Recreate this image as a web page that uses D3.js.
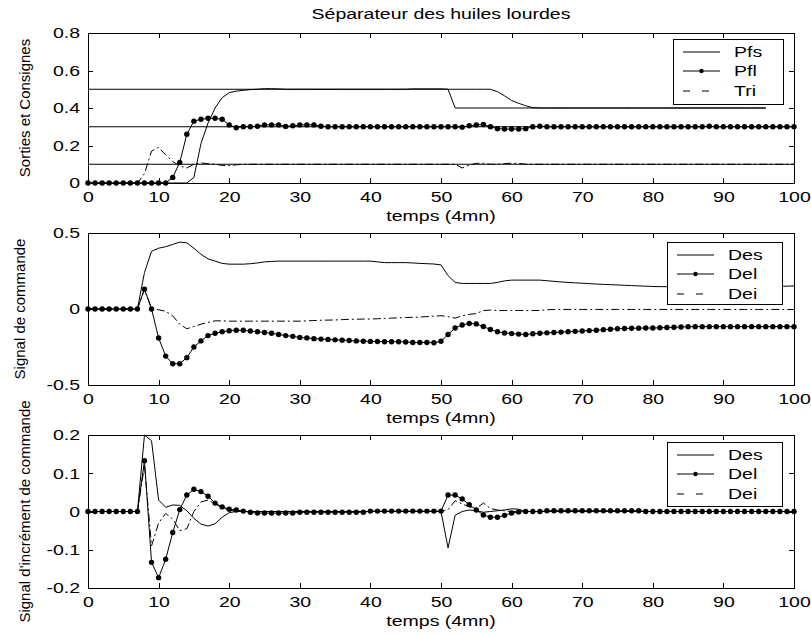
<!DOCTYPE html>
<html>
<head>
<meta charset="utf-8">
<script src="https://cdn.jsdelivr.net/npm/d3@7"></script>
<style>
  body { margin: 0; background: #fff; }
  svg text { font-family: "Liberation Sans", Arial, sans-serif; font-size: 15px; fill: #000; }
</style>
</head>
<body>
<svg id="chart" width="811" height="635"></svg>
<script>
// Sampling instants (one sample per 4 mn)
const temps = d3.range(0, 101);
const xTicks = [0, 10, 20, 30, 40, 50, 60, 70, 80, 90, 100];

// ---- Panel 1: outputs and set-points ----
const yTicks1 = [0, 0.2, 0.4, 0.6, 0.8];
const consPfs = [[0, 0.5], [51, 0.5], [52, 0.4], [96, 0.4]];
const consPfl = [[0, 0.3], [100, 0.3]];
const consTri = [[0, 0.1], [100, 0.1]];
const pfs = [
  0, 0, 0, 0, 0, 0, 0, 0, 0, 0,
  0, 0, 0, 0, 0, 0.03, 0.21, 0.32, 0.40, 0.455,
  0.482, 0.49, 0.494, 0.498, 0.5, 0.503, 0.503, 0.502, 0.5, 0.5,
  0.5, 0.5, 0.5, 0.5, 0.5, 0.5, 0.5, 0.5, 0.5, 0.5,
  0.5, 0.5, 0.5, 0.5, 0.5, 0.5, 0.502, 0.502, 0.502, 0.502,
  0.502, 0.5, 0.5, 0.5, 0.5, 0.5, 0.5, 0.5, 0.487, 0.465,
  0.44, 0.425, 0.412, 0.402, 0.4, 0.4, 0.4, 0.4, 0.4, 0.4,
  0.4, 0.4, 0.4, 0.4, 0.4, 0.4, 0.4, 0.4, 0.4, 0.4,
  0.4, 0.4, 0.4, 0.4, 0.4, 0.4, 0.4, 0.4, 0.4, 0.4,
  0.4, 0.4, 0.4, 0.4, 0.4, 0.4, 0.4, null, null, null,
  null
];
const pfl = [
  0, 0, 0, 0, 0, 0, 0, 0, 0, 0,
  0, 0, 0.03, 0.11, 0.26, 0.33, 0.34, 0.345, 0.345, 0.34,
  0.31, 0.295, 0.3, 0.3, 0.303, 0.31, 0.31, 0.31, 0.302, 0.305,
  0.31, 0.31, 0.31, 0.303, 0.3, 0.3, 0.3, 0.3, 0.3, 0.3,
  0.3, 0.3, 0.3, 0.3, 0.3, 0.3, 0.3, 0.3, 0.3, 0.3,
  0.3, 0.3, 0.3, 0.298, 0.305, 0.31, 0.312, 0.3, 0.29, 0.288,
  0.288, 0.288, 0.29, 0.3, 0.303, 0.3, 0.3, 0.3, 0.3, 0.3,
  0.3, 0.3, 0.3, 0.3, 0.3, 0.3, 0.3, 0.3, 0.3, 0.3,
  0.3, 0.3, 0.3, 0.3, 0.3, 0.3, 0.3, 0.3, 0.303, 0.3,
  0.3, 0.3, 0.3, 0.3, 0.3, 0.3, 0.3, 0.3, 0.3, 0.3,
  0.3
];
const tri = [
  0, 0, 0, 0, 0, 0, 0, 0, 0.05, 0.17,
  0.19, 0.15, 0.115, 0.09, 0.08, 0.1, 0.107, 0.103, 0.1, 0.094,
  0.092, 0.097, 0.1, 0.1, 0.1, 0.1, 0.1, 0.1, 0.1, 0.1,
  0.1, 0.1, 0.1, 0.1, 0.1, 0.1, 0.1, 0.1, 0.1, 0.1,
  0.1, 0.1, 0.1, 0.1, 0.1, 0.1, 0.1, 0.1, 0.1, 0.1,
  0.1, 0.1, 0.1, 0.08, 0.095, 0.105, 0.105, 0.1, 0.1, 0.104,
  0.105, 0.105, 0.1, 0.1, 0.1, 0.1, 0.1, 0.1, 0.1, 0.1,
  0.1, 0.1, 0.1, 0.1, 0.1, 0.1, 0.1, 0.1, 0.1, 0.1,
  0.1, 0.1, 0.1, 0.1, 0.1, 0.1, 0.1, 0.1, 0.1, 0.1,
  0.1, 0.1, 0.1, 0.1, 0.1, 0.1, 0.1, 0.1, 0.1, 0.1,
  0.1
];

// ---- Panel 2: control signals ----
const yTicks2 = [-0.5, 0, 0.5];
const des2 = [
  0, 0, 0, 0, 0, 0, 0, 0, 0.24, 0.38,
  0.40, 0.41, 0.425, 0.44, 0.435, 0.40, 0.36, 0.33, 0.315, 0.30,
  0.295, 0.295, 0.295, 0.298, 0.303, 0.31, 0.313, 0.315, 0.315, 0.315,
  0.315, 0.315, 0.315, 0.315, 0.315, 0.315, 0.315, 0.315, 0.315, 0.315,
  0.315, 0.31, 0.305, 0.305, 0.305, 0.305, 0.303, 0.3, 0.298, 0.296,
  0.29, 0.22, 0.175, 0.168, 0.168, 0.168, 0.168, 0.168, 0.175, 0.185,
  0.19, 0.19, 0.19, 0.19, 0.19, 0.186, 0.182, 0.178, 0.175, 0.172,
  0.17, 0.167, 0.164, 0.162, 0.16, 0.158, 0.156, 0.154, 0.152, 0.15,
  0.148, 0.147, 0.147, 0.147, 0.147, 0.148, 0.149, 0.15, 0.15, 0.15,
  0.15, 0.15, 0.15, 0.15, 0.15, 0.15, 0.15, 0.15, 0.15, 0.15,
  0.152
];
const del2 = [
  0, 0, 0, 0, 0, 0, 0, 0, 0.13, 0,
  -0.19, -0.31, -0.36, -0.36, -0.32, -0.25, -0.21, -0.175, -0.16, -0.15,
  -0.143, -0.14, -0.14, -0.145, -0.15, -0.155, -0.16, -0.168, -0.175, -0.18,
  -0.187, -0.19, -0.195, -0.198, -0.2, -0.203, -0.205, -0.207, -0.21, -0.212,
  -0.213, -0.214, -0.215, -0.215, -0.215, -0.217, -0.22, -0.22, -0.22, -0.222,
  -0.212, -0.168, -0.125, -0.105, -0.095, -0.098, -0.115, -0.135, -0.15, -0.158,
  -0.162, -0.165, -0.168, -0.163, -0.16, -0.157, -0.155, -0.152, -0.15, -0.147,
  -0.145, -0.142, -0.14, -0.136, -0.133, -0.13, -0.128, -0.127, -0.126, -0.125,
  -0.125, -0.123, -0.122, -0.12, -0.118, -0.117, -0.116, -0.116, -0.116, -0.116,
  -0.116, -0.116, -0.116, -0.116, -0.116, -0.116, -0.116, -0.116, -0.116, -0.116,
  -0.116
];
const dei2 = [
  0, 0, 0, 0, 0, 0, 0, 0, 0.13, 0.005,
  -0.005, -0.015, -0.045, -0.1, -0.13, -0.115, -0.1, -0.088, -0.078, -0.078,
  -0.08, -0.08, -0.08, -0.08, -0.08, -0.08, -0.08, -0.08, -0.08, -0.08,
  -0.08, -0.078, -0.076, -0.074, -0.073, -0.072, -0.07, -0.068, -0.067, -0.066,
  -0.066, -0.064, -0.062, -0.06, -0.058, -0.056, -0.055, -0.053, -0.05, -0.047,
  -0.044, -0.05, -0.06, -0.045, -0.035, -0.03, -0.01, -0.007, -0.01, -0.01,
  -0.01, -0.01, -0.01, -0.01, -0.01, -0.005, -0.003, -0.003, -0.003, -0.003,
  -0.003, -0.003, -0.003, -0.003, -0.003, -0.003, -0.003, -0.003, -0.003, -0.003,
  -0.003, -0.003, -0.003, -0.003, -0.003, -0.003, -0.003, -0.003, -0.003, -0.003,
  -0.003, -0.003, -0.003, -0.003, -0.003, -0.003, -0.003, -0.003, -0.003, -0.003,
  -0.003
];

// ---- Panel 3: control increments ----
const yTicks3 = [-0.2, -0.1, 0, 0.1, 0.2];
const des3 = [
  0, 0, 0, 0, 0, 0, 0, 0, 0.2, 0.185,
  0.03, 0.011, 0.017, 0.016, 0.002, -0.018, -0.033, -0.038, -0.032, -0.015,
  -0.003, 0, 0, 0, 0, 0, 0, 0, 0, 0,
  0, 0, 0, 0, 0, 0, 0, 0, 0, 0,
  0, 0, 0, 0, 0, 0, 0, 0, 0, 0,
  0, -0.095, -0.01, 0, 0.004, 0.002, -0.002, 0, 0.002, 0.004,
  0.007, 0.006, 0, 0, 0, 0, 0, 0, 0, 0,
  0, 0, 0, 0, 0, 0, 0, 0, 0, 0,
  0, 0, 0, 0, 0, 0, 0, 0, 0, 0,
  0, 0, 0, 0, 0, 0, 0, 0, 0, 0,
  0
];
const del3 = [
  0, 0, 0, 0, 0, 0, 0, 0, 0.133, -0.133,
  -0.173, -0.125, -0.055, 0.005, 0.043, 0.058, 0.052, 0.04, 0.022, 0.012,
  0.006, 0.004, 0.001, -0.002, -0.004, -0.004, -0.004, -0.004, -0.004, -0.004,
  -0.002, -0.002, -0.002, -0.002, -0.002, -0.002, -0.002, -0.002, -0.002, -0.002,
  0.001, 0.001, 0.001, 0.001, 0.001, 0.001, 0.001, 0.001, 0.001, 0.001,
  0.001, 0.043, 0.043, 0.033, 0.018, 0.004, -0.009, -0.015, -0.015, -0.01,
  -0.004, -0.001, 0, 0, 0, 0.002, 0.002, 0.002, 0.002, 0.002,
  0.002, 0.002, 0.002, 0.002, 0.002, 0.002, 0.002, 0.002, 0.002, 0,
  0, 0, 0, 0, 0, 0, 0, 0, 0, 0,
  0, 0, 0, 0, 0, 0, 0, 0, 0, 0,
  0
];
const dei3 = [
  0, 0, 0, 0, 0, 0, 0, 0, 0.12, -0.09,
  -0.03, -0.005, -0.02, -0.05, -0.045, 0, 0.025, 0.03, 0.02, 0.01,
  0.004, 0, 0, 0, 0, 0, 0, 0, 0, 0,
  0, 0, 0, 0, 0, 0, 0, 0, 0, 0,
  0, 0, 0, 0, 0, 0, 0, 0, 0, 0,
  0, 0.005, 0.028, 0.02, 0.012, 0.008, 0.022, 0.008, 0.004, 0.002,
  0, 0, 0, 0, 0, 0, 0, 0, 0, 0,
  0, 0, 0, 0, 0, 0, 0, 0, 0, 0,
  0, 0, 0, 0, 0, 0, 0, 0, 0, 0,
  0, 0, 0, 0, 0, 0, 0, 0, 0, 0,
  0
];

// ---- Layout ----
const SX = 1.3;            // horizontal stretch of the label glyphs
const DASHDOT = "8,3,2,3";
const MARKER_R = 2.7;
const svg = d3.select("#chart");
const x = d3.scaleLinear().domain([0, 100]).range([88, 794]);

const panels = [
  {
    top: 33, bottom: 183, domain: [0, 0.8], ticks: yTicks1,
    ylabel: "Sorties et Consignes", ylabelX: 30,
    refs: [consPfs, consPfl, consTri],
    series: [
      { name: "Pfs", values: pfs, style: "solid" },
      { name: "Pfl", values: pfl, style: "marker" },
      { name: "Tri", values: tri, style: "dashdot" }
    ],
    legend: { x: 673, y: 39, w: 110, h: 65 }
  },
  {
    top: 233, bottom: 385, domain: [-0.5, 0.5], ticks: yTicks2,
    ylabel: "Signal de commande", ylabelX: 25,
    refs: [],
    series: [
      { name: "Des", values: des2, style: "solid" },
      { name: "Del", values: del2, style: "marker" },
      { name: "Dei", values: dei2, style: "dashdot" }
    ],
    legend: { x: 667, y: 242, w: 115, h: 62 }
  },
  {
    top: 435, bottom: 588, domain: [-0.2, 0.2], ticks: yTicks3,
    ylabel: "Signal d'incrément de commande", ylabelX: 30,
    refs: [],
    series: [
      { name: "Des", values: des3, style: "solid" },
      { name: "Del", values: del3, style: "marker" },
      { name: "Dei", values: dei3, style: "dashdot" }
    ],
    legend: { x: 667, y: 442, w: 115, h: 64 }
  }
];

// Title
svg.append("text")
  .attr("transform", `translate(441,19) scale(${SX},1)`)
  .attr("text-anchor", "middle")
  .text("Séparateur des huiles lourdes");

panels.forEach(p => {
  const y = d3.scaleLinear().domain(p.domain).range([p.bottom, p.top]);
  const g = svg.append("g");
  const line = d3.line()
    .defined(d => d[1] != null)
    .x(d => x(d[0]))
    .y(d => y(d[1]));

  // set-point lines
  p.refs.forEach(r => {
    g.append("path").datum(r).attr("d", line)
      .attr("fill", "none").attr("stroke", "#000").attr("stroke-width", 1);
  });

  // measured / computed signals
  p.series.forEach(s => {
    const pts = temps.map((t, k) => [t, s.values[k]]);
    g.append("path").datum(pts).attr("d", line)
      .attr("fill", "none").attr("stroke", "#000").attr("stroke-width", 1)
      .attr("stroke-dasharray", s.style === "dashdot" ? DASHDOT : null);
    if (s.style === "marker") {
      g.selectAll(null).data(pts.filter(d => d[1] != null)).join("circle")
        .attr("cx", d => x(d[0])).attr("cy", d => y(d[1]))
        .attr("r", MARKER_R).attr("fill", "#000");
    }
  });

  // frame
  g.append("rect")
    .attr("x", x(0)).attr("y", p.top)
    .attr("width", x(100) - x(0)).attr("height", p.bottom - p.top)
    .attr("fill", "none").attr("stroke", "#000").attr("stroke-width", 1)
    .attr("shape-rendering", "crispEdges");

  // axes, ticks pointing inward on all four sides
  const ax = g.append("g").attr("transform", `translate(0,${p.bottom})`)
    .call(d3.axisBottom(x).tickValues(xTicks).tickSize(-5).tickPadding(8)
      .tickFormat(d => String(d)));
  ax.select(".domain").remove();
  ax.selectAll("text").attr("transform", `scale(${SX},1)`);

  const axTop = g.append("g").attr("transform", `translate(0,${p.top})`)
    .call(d3.axisTop(x).tickValues(xTicks).tickSize(-5).tickFormat(""));
  axTop.select(".domain").remove();

  const ay = g.append("g").attr("transform", `translate(${x(0)},0)`)
    .call(d3.axisLeft(y).tickValues(p.ticks).tickSize(-5).tickPadding(8 / SX)
      .tickFormat(d => String(d)));
  ay.select(".domain").remove();
  ay.selectAll("text").attr("transform", `scale(${SX},1)`);

  const ayR = g.append("g").attr("transform", `translate(${x(100)},0)`)
    .call(d3.axisRight(y).tickValues(p.ticks).tickSize(-5).tickFormat(""));
  ayR.select(".domain").remove();

  g.selectAll(".tick line").attr("shape-rendering", "crispEdges");

  // axis titles
  g.append("text")
    .attr("transform", `translate(441,${p.bottom + 38}) scale(${SX},1)`)
    .attr("text-anchor", "middle")
    .text("temps (4mn)");
  g.append("text")
    .attr("transform", `translate(${p.ylabelX},${(p.top + p.bottom) / 2}) rotate(-90)`)
    .attr("text-anchor", "middle")
    .text(p.ylabel);

  // legend
  const L = p.legend;
  const lg = g.append("g");
  lg.append("rect")
    .attr("x", L.x).attr("y", L.y).attr("width", L.w).attr("height", L.h)
    .attr("fill", "#fff").attr("stroke", "#000").attr("stroke-width", 1)
    .attr("shape-rendering", "crispEdges");
  const rowsY = [13, 32, 52];
  p.series.forEach((s, k) => {
    const yy = L.y + rowsY[k];
    const x0 = L.x + 10, x1 = L.x + 47;
    lg.append("line")
      .attr("x1", x0).attr("x2", x1).attr("y1", yy).attr("y2", yy)
      .attr("stroke", "#000").attr("stroke-width", 1)
      .attr("stroke-dasharray", s.style === "dashdot" ? "7,12,7,20" : null);
    if (s.style === "marker") {
      lg.append("circle").attr("cx", (x0 + x1) / 2).attr("cy", yy)
        .attr("r", 2.2).attr("fill", "#000");
    }
    lg.append("text")
      .attr("transform", `translate(${L.x + 61},${yy}) scale(${SX},1)`)
      .attr("dy", "0.35em")
      .text(s.name);
  });
});
</script>
</body>
</html>
